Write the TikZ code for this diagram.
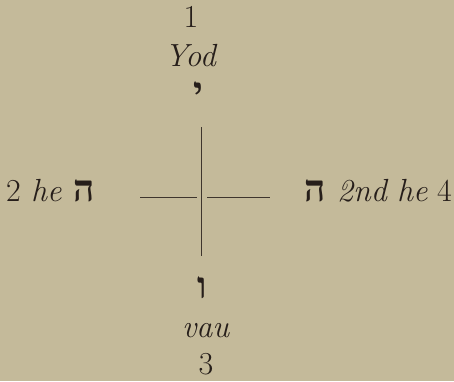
\documentclass[tikz,border=0pt]{standalone}
\usepackage{fontspec}
\TeXXeTstate=1
\newfontfamily\hebfont[Script=Hebrew]{Liberation Serif}
\definecolor{paper}{RGB}{196,186,154}
\definecolor{ink}{RGB}{38,30,26}
\newcommand{\heb}[1]{{\hebfont\bfseries\fontsize{37}{40}\selectfont\beginR #1\endR}}
\begin{document}
\begin{tikzpicture}[x=1pt,y=1pt,
  lbl/.style={inner sep=0pt,text=ink,font=\fontsize{32}{36}\selectfont},
  rule/.style={draw=ink!85!paper,line width=0.9pt}]
\fill[paper] (0,0) rectangle (454,381);
\useasboundingbox (0,0) rectangle (454,381);
% top
\node[lbl,anchor=base] (one) at (191,353) {1};
\node[lbl,anchor=base] (yod) at (191,314) {\textit{Yod}};
\node[lbl,anchor=center] (yodl) at (198,288) {\heb{י}};
% bottom
\node[lbl,anchor=center] (vavl) at (202,93) {\heb{ו}};
\node[lbl,anchor=base] (vau) at (206,44) {\textit{vau}};
\node[lbl,anchor=base] (three) at (206,7) {3};
% left side
\node[lbl,anchor=base west] (two) at (6,180) {2};
\node[lbl,anchor=base west] (he) at (31,180) {\textit{he}};
\node[lbl,anchor=base west] (heL) at (73,180) {\heb{ה}};
% right side
\node[lbl,anchor=base west] (heR) at (304,180) {\heb{ה}};
\node[lbl,anchor=base west] (nd) at (337,180) {\textit{2nd}};
\node[lbl,anchor=base west] (he2) at (397,180) {\textit{he}};
\node[lbl,anchor=base west] (four) at (437,180) {4};
% cross
\coordinate (vt) at (201,254);
\coordinate (vb) at (201,125);
\coordinate (hl1) at (140,184);
\coordinate (hl2) at (197,184);
\coordinate (hr1) at (207,184);
\coordinate (hr2) at (270,184);
\draw[rule] (vt) -- (vb);
\draw[rule] (hl1) -- (hl2);
\draw[rule] (hr1) -- (hr2);
\end{tikzpicture}
\end{document}
